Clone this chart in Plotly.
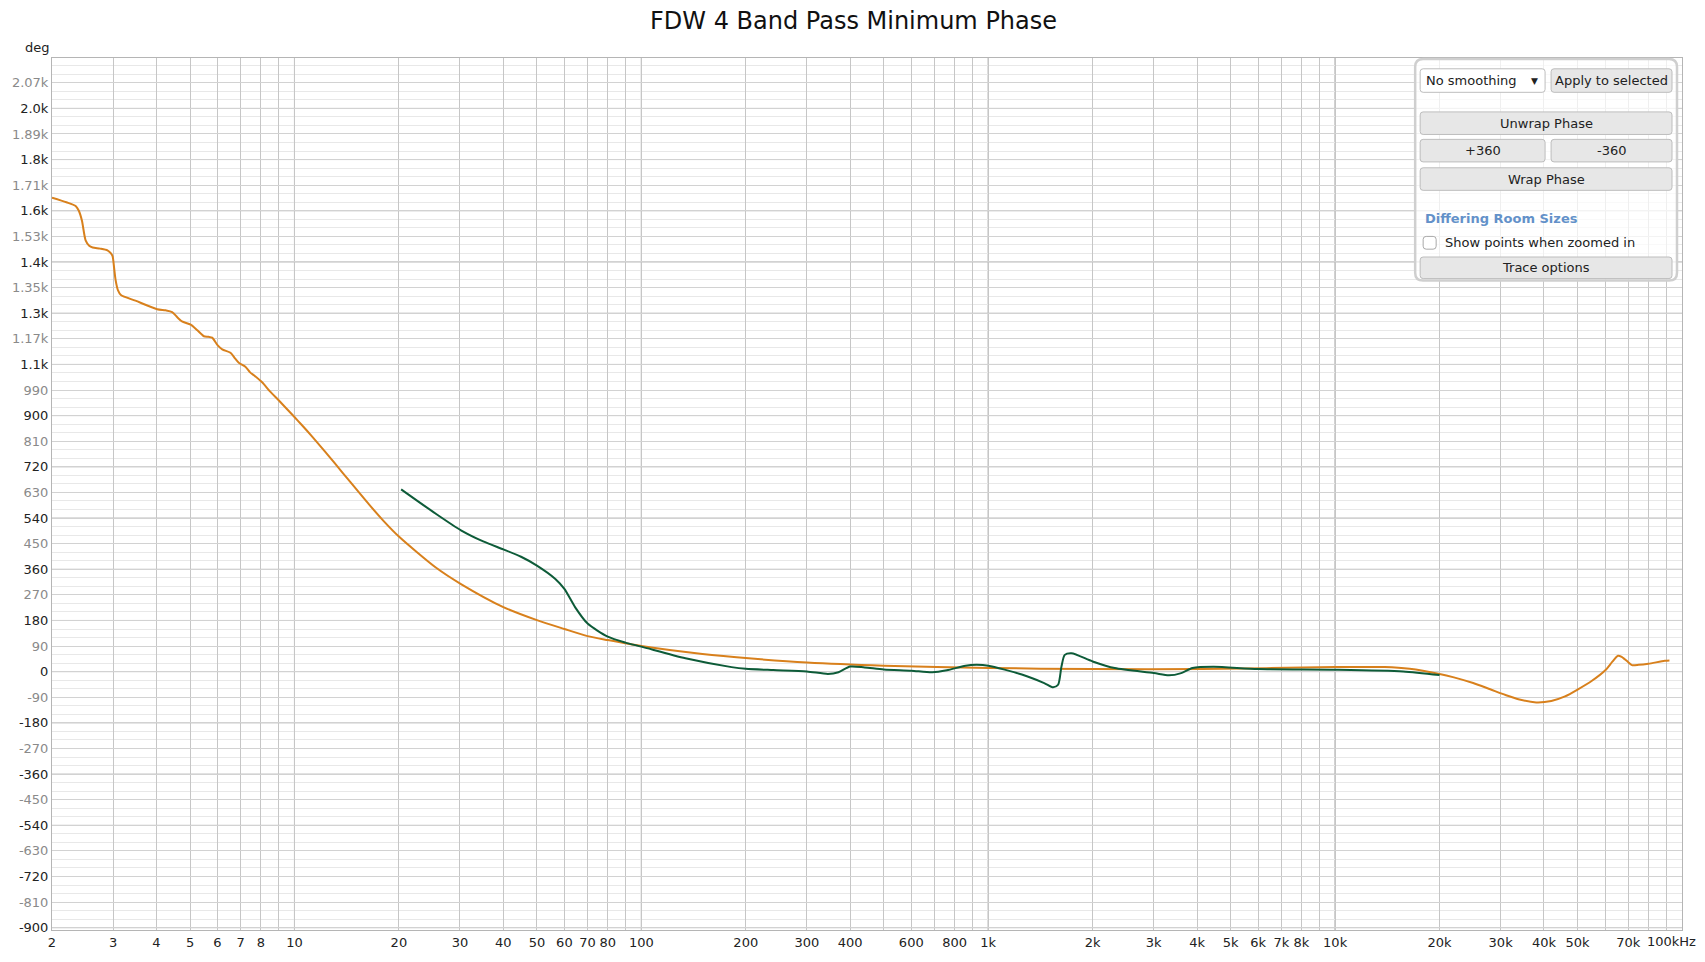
import plotly.graph_objects as go

# REW phase plot: FDW 4 band pass vs minimum phase

# orange trace (freq Hz, phase deg)
ORANGE_F = [2.0, 2.2, 2.34, 2.39, 2.44, 2.50, 2.56, 2.62, 2.75, 2.89, 2.95, 2.99, 3.02, 3.05,
            3.10, 3.16, 3.48, 4.02, 4.25, 4.44, 4.60, 4.74, 5.02, 5.25, 5.48, 5.65, 5.79, 6.0,
            6.19, 6.54, 6.75, 6.91, 7.22, 7.45, 7.64, 8.07, 8.5, 9.02, 10, 10.5, 11.2, 12.2,
            13.1, 14.5, 16.4, 18, 20, 25.5, 30.2, 40, 50, 60, 70, 80, 100, 150, 208, 300, 500,
            1000, 2000, 4120, 10000, 13900, 16400, 20000, 22000, 25000, 28000, 31000, 34000,
            38000, 42000, 46000, 50000, 55000, 60000, 63000, 65400, 67000, 68200, 70000, 71700,
            75000, 80000, 89200, 92000]
ORANGE_DEG = [1666, 1650, 1637, 1620, 1585, 1516, 1497, 1491, 1487, 1481, 1472, 1460, 1420, 1377,
              1340, 1324, 1304, 1274, 1270, 1264, 1245, 1231, 1220, 1200, 1179, 1177, 1174, 1148,
              1133, 1121, 1100, 1086, 1072, 1052, 1042, 1017, 985, 953, 895, 867, 829, 776,
              731, 666, 588, 532, 475, 367, 308, 227, 181, 150, 125, 111, 90, 62, 46, 32, 21,
              13, 9, 9, 16, 16, 10, -8, -20, -40, -62, -82, -98,
              -108, -103, -87, -63, -32, 4, 35, 56, 52, 45, 33, 23,
              24, 28, 38, 39]

# green trace
GREEN_F = [20.3, 25.5, 30.2, 35, 40, 45, 50, 56.5, 60, 64.4, 70, 80, 90, 100, 134, 182, 200,
           240, 300, 345, 370, 400, 440, 500, 600, 690, 760, 860, 925, 1000, 1250, 1450, 1539,
           1590, 1626, 1662, 1738, 2000, 2316, 3000, 3320, 3600, 3880, 4460, 6000, 10000,
           15700, 20000]
GREEN_DEG = [641, 556, 497, 458, 430, 404, 373, 326, 291, 227, 169, 123, 102, 88, 47, 16, 10,
             5.6, 1, -8, -2, 18, 15, 8, 3.5, -2, 5, 21, 24, 21, -10, -40, -55,
             -46, 18, 59, 65, 36, 12.6, -5, -13, -5, 12.6, 17, 9, 7,
             1, -12]

X_TICK_VALS = [2, 3, 4, 5, 6, 7, 8, 9,
               10, 20, 30, 40, 50, 60, 70, 80, 90,
               100, 200, 300, 400, 500, 600, 700, 800, 900,
               1000, 2000, 3000, 4000, 5000, 6000, 7000, 8000, 9000,
               10000, 20000, 30000, 40000, 50000, 60000, 70000, 80000, 90000, 100000]
X_TICK_TEXT = ['2', '3', '4', '5', '6', '7', '8', '',
               '10', '20', '30', '40', '50', '60', '70', '80', '',
               '100', '200', '300', '400', '', '600', '', '800', '',
               '1k', '2k', '3k', '4k', '5k', '6k', '7k', '8k', '',
               '10k', '20k', '30k', '40k', '50k', '', '70k', '', '', '']
LAST_X_LABEL = '100kHz'
DECADES = [10, 100, 1000, 10000]

Y_TICK_VALS = [-900, -810, -720, -630, -540, -450, -360, -270, -180, -90, 0, 90, 180, 270,
               360, 450, 540, 630, 720, 810, 900, 990, 1080, 1170, 1260, 1350, 1440, 1530,
               1620, 1710, 1800, 1890, 1980, 2070]
Y_TICK_TEXT = ['-900', '-810', '-720', '-630', '-540', '-450', '-360', '-270', '-180', '-90',
               '0', '90', '180', '270', '360', '450', '540', '630', '720', '810', '900', '990',
               '1.1k', '1.17k', '1.3k', '1.35k', '1.4k', '1.53k', '1.6k', '1.71k', '1.8k',
               '1.89k', '2.0k', '2.07k']
Y_RANGE = [-908, 2157]

W, H = 1705, 962
ML, MR, MT, MB = 51, 23, 58, 14.5
FONT = 'DejaVu Sans'


def px(x):
    return (x - ML) / (W - ML - MR)


def py(y):
    return (H - MB - y) / (H - MT - MB)


def rrect(x0, y0, x1, y1, r):
    pts = [
        ('M', x0 + r, y0), ('L', x1 - r, y0), ('Q', x1, y0, x1, y0 + r),
        ('L', x1, y1 - r), ('Q', x1, y1, x1 - r, y1), ('L', x0 + r, y1),
        ('Q', x0, y1, x0, y1 - r), ('L', x0, y0 + r), ('Q', x0, y0, x0 + r, y0),
    ]
    out = []
    for p in pts:
        if p[0] == 'Q':
            out.append(f"Q{px(p[1]):.5f},{py(p[2]):.5f} {px(p[3]):.5f},{py(p[4]):.5f}")
        else:
            out.append(f"{p[0]}{px(p[1]):.5f},{py(p[2]):.5f}")
    return ' '.join(out) + ' Z'


fig = go.Figure()

fig.add_trace(go.Scatter(x=ORANGE_F, y=ORANGE_DEG, mode='lines',
                         line=dict(color='#D8801C', width=2, shape='spline', smoothing=0.7),
                         hoverinfo='skip'))
fig.add_trace(go.Scatter(x=GREEN_F, y=GREEN_DEG, mode='lines',
                         line=dict(color='#0D5B38', width=2, shape='spline', smoothing=0.7),
                         hoverinfo='skip'))

shapes = []
# darker decade lines
for d in DECADES:
    shapes.append(dict(type='line', xref='x', yref='paper', x0=d, x1=d, y0=0, y1=1,
                       line=dict(color='#888888', width=1), layer='below'))
# darker lines every 180 deg
for v in range(-900, 2161, 180):
    shapes.append(dict(type='line', xref='paper', yref='y', x0=0, x1=1, y0=v, y1=v,
                       line=dict(color='#b9b9b9', width=1), layer='below'))

annotations = []

# control panel (top right)
shapes.append(dict(type='path', xref='paper', yref='paper', path=rrect(1415, 59, 1677, 285, 8),
                   fillcolor='rgba(255,255,255,0.72)', line=dict(color='#cfcfcf', width=2.5)))


def button(x0, y0, x1, y1, label, fill='#e7e7e7', align='center'):
    shapes.append(dict(type='path', xref='paper', yref='paper', path=rrect(x0, y0, x1, y1, 3),
                       fillcolor=fill, line=dict(color='#bdbdbd', width=1)))
    if align == 'center':
        xa, anchor = (x0 + x1) / 2, 'center'
    else:
        xa, anchor = x0 + 4, 'left'
    annotations.append(dict(text=label, xref='paper', yref='paper', x=px(xa), y=py((y0 + y1) / 2),
                            xanchor=anchor, yanchor='middle', showarrow=False,
                            font=dict(family=FONT, size=13, color='#222222')))


button(1420, 69, 1545, 93, 'No smoothing', fill='#ffffff', align='left')
annotations.append(dict(text='▼', xref='paper', yref='paper', x=px(1534), y=py(81),
                        xanchor='center', yanchor='middle', showarrow=False,
                        font=dict(family=FONT, size=9, color='#222222')))
button(1551, 69, 1672, 93, 'Apply to selected')
button(1420, 113, 1672, 136, 'Unwrap Phase')
button(1420, 141, 1545, 164, '+360')
button(1551, 141, 1672, 164, '-360')
button(1420, 170, 1672, 193, 'Wrap Phase')
annotations.append(dict(text='<b>Differing Room Sizes</b>', xref='paper', yref='paper',
                        x=px(1423), y=py(222), xanchor='left', yanchor='middle', showarrow=False,
                        font=dict(family=FONT, size=13, color='#6391c9')))
shapes.append(dict(type='path', xref='paper', yref='paper', path=rrect(1423, 240, 1436, 253, 3),
                   fillcolor='#ffffff', line=dict(color='#a9a9a9', width=1)))
annotations.append(dict(text='Show points when zoomed in', xref='paper', yref='paper',
                        x=px(1443), y=py(246.5), xanchor='left', yanchor='middle', showarrow=False,
                        font=dict(family=FONT, size=13, color='#222222')))
button(1420, 261, 1672, 283, 'Trace options')

# title, axis unit, last x label
annotations.append(dict(text='FDW 4 Band Pass Minimum Phase', xref='paper', yref='paper',
                        x=px(853), y=py(20), xanchor='center', yanchor='middle', showarrow=False,
                        font=dict(family=FONT, size=24, color='#111111')))
annotations.append(dict(text='deg', xref='paper', yref='paper', x=px(36), y=py(47),
                        xanchor='center', yanchor='middle', showarrow=False,
                        font=dict(family=FONT, size=13, color='#222222')))
annotations.append(dict(text=LAST_X_LABEL, xref='paper', yref='paper', x=px(1698), y=py(959),
                        xanchor='right', yanchor='middle', showarrow=False,
                        font=dict(family=FONT, size=13, color='#222222')))

y_text = [t if i % 2 == 0 else f'<span style="color:#8a8a8a">{t}</span>'
          for i, t in enumerate(Y_TICK_TEXT)]

fig.update_layout(
    width=W, height=H,
    margin=dict(l=ML, r=MR, t=MT, b=MB),
    paper_bgcolor='white', plot_bgcolor='white',
    showlegend=False, hovermode=False,
    font=dict(family=FONT, size=13, color='#222222'),
    shapes=shapes, annotations=annotations,
    xaxis=dict(type='log', range=[0.30103, 5.0], tickmode='array',
               tickvals=X_TICK_VALS, ticktext=X_TICK_TEXT, showgrid=True,
               gridcolor='#c6c6c6', gridwidth=1, zeroline=False, ticks='',
               showline=True, linecolor='#b5b5b5', mirror=True,
               tickfont=dict(family=FONT, size=13, color='#222222'), fixedrange=True),
    yaxis=dict(range=Y_RANGE, tickmode='array', tickvals=Y_TICK_VALS, ticktext=y_text,
               showgrid=True, gridcolor='#d2d2d2', gridwidth=1, zeroline=False, ticks='',
               showline=True, linecolor='#b5b5b5', mirror=True,
               tickfont=dict(family=FONT, size=13, color='#222222'), fixedrange=True,
               minor=dict(tickmode='array', tickvals=list(range(-900, 2161, 30)),
                          showgrid=True, gridcolor='#e8e8e8', gridwidth=1, ticks='')),
)

fig.write_html("out.html", config={'displayModeBar': False},
               post_script="document.body.style.margin='0px';document.body.style.overflow='hidden';")
